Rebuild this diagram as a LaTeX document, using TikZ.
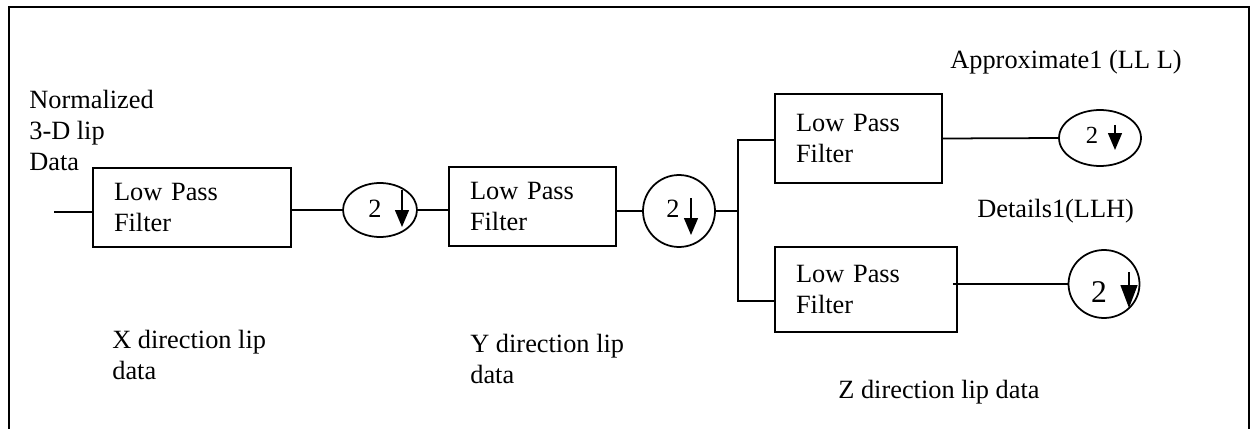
\documentclass[tikz,border=0pt]{standalone}
\usepackage{fontspec}
\setmainfont{Liberation Serif}
\usetikzlibrary{arrows.meta,%
                shapes.geometric}
\tikzstyle{lpf}=[rectangle, draw, line width=1.1pt, inner xsep=0.42cm, inner ysep=0pt, align=left]
\tikzstyle{dsamp}=[ellipse, draw, line width=1pt, inner sep=0pt]
\tikzstyle{lbl}=[anchor=north west, inner sep=0pt, align=left]
\tikzstyle{num}=[anchor=base, inner sep=0pt]
\tikzstyle{dnarrow}=[line width=0.8pt, -{Triangle[length=0.34cm,width=0.28cm]}]
\tikzstyle{wire}=[line width=1pt]

\begin{document}
\begin{tikzpicture}[x=0.02cm, y=-0.02cm, font=\fontsize{15pt}{17.5pt}\selectfont]
  \useasboundingbox (0,0) rectangle (1251,429);
  \draw[line width=1.1pt] (9,429) -- (9,7) -- (1249,7) -- (1249,429);

  % filter blocks
  \node[lpf, text width=3.12cm, minimum height=1.58cm] (lpf1) at (192,207.5) {Low Pass\\Filter};
  \node[lpf, text width=2.5cm, minimum height=1.58cm] (lpf2) at (532.5,206.5) {Low Pass\\Filter};
  \node[lpf, text width=2.5cm, minimum height=1.78cm] (lpf3) at (858.5,138.5) {Low Pass\\Filter};
  \node[lpf, text width=2.8cm, minimum height=1.7cm] (lpf4) at (866,289.5) {Low Pass\\Filter};

  % downsamplers
  \node[dsamp, minimum width=1.48cm, minimum height=1.08cm] (ds1) at (380,210) {};
  \node[dsamp, minimum width=1.44cm, minimum height=1.44cm] (ds2) at (679,211) {};
  \node[dsamp, minimum width=1.64cm, minimum height=1.12cm] (ds3) at (1100,138) {};
  \node[dsamp, minimum width=1.42cm, minimum height=1.36cm] (ds4) at (1104,284) {};

  \node[num] (n1) at (375,217) {2};
  \node[num] (n2) at (673,217) {2};
  \node[num, font=\fontsize{14pt}{16pt}\selectfont] (n3) at (1092,144) {2};
  \node[num, font=\fontsize{18pt}{20pt}\selectfont] (n4) at (1099,302) {2};
  \draw[dnarrow] (402,190) -- (402,227);
  \draw[dnarrow] (691,198) -- (691,235);
  \draw[dnarrow] (1115,125) -- (1115,150);
  \draw[dnarrow, -{Triangle[length=0.46cm,width=0.34cm]}] (1129,272) -- (1129,308);

  % labels
  \node[lbl] (inlbl) at (29,90) {Normalized\\3-D lip\\Data};
  \node[lbl] (xlbl) at (112,330) {X direction lip\\data};
  \node[lbl] (ylbl) at (470,334) {Y direction lip\\data};
  \node[lbl] (zlbl) at (838,380) {Z direction lip data};
  \node[lbl] (alpbl) at (950,50) {Approximate1 (LL L)};
  \node[lbl] (dtlbl) at (977,199) {Details1(LLH)};

  % wires
  \coordinate (in) at (54,212);
  \coordinate (br) at (738,211);
  \draw[wire] (in) -- (in -| lpf1.west);
  \draw[wire] (ds1.west -| lpf1.east) -- (ds1.west);
  \draw[wire] (ds1.east) -- (ds1.east -| lpf2.west);
  \draw[wire] (ds2.west -| lpf2.east) -- (ds2.west);
  \draw[wire] (ds2.east) -- (br);
  \draw[wire] ([yshift=-0.03cm]lpf3.west) -| (br) |- ([yshift=-0.23cm]lpf4.west);
  \draw[wire] (lpf3.east) -- (ds3.west);
  \draw[wire] ([xshift=-0.1cm]ds4.west -| lpf4.east) -- (ds4.west);
\end{tikzpicture}
\end{document}
